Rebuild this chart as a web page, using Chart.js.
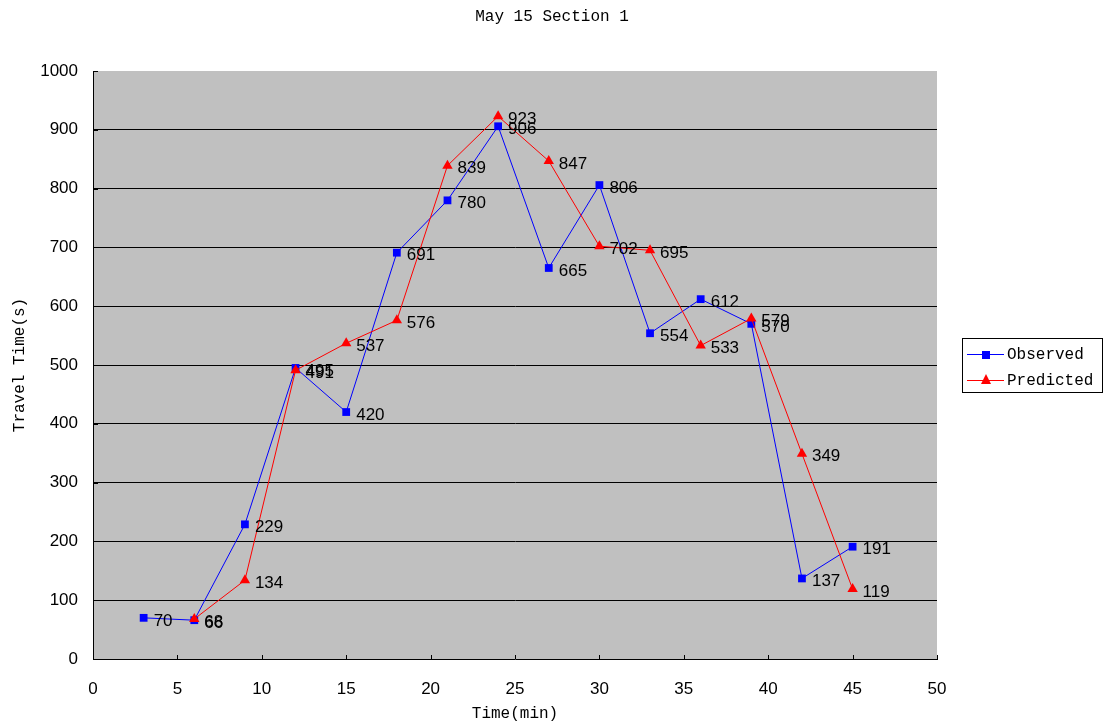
<!DOCTYPE html>
<html>
<head>
<meta charset="utf-8">
<script src="https://cdn.jsdelivr.net/npm/chart.js@4.4.1/dist/chart.umd.min.js"></script>
<style>
  html, body { margin: 0; padding: 0; background: #ffffff; }
  #wrap { width: 1104px; height: 726px; }
</style>
</head>
<body>
<div id="wrap"><canvas id="c" width="1104" height="726"></canvas></div>
<script>
// Travel time per 3-minute interval, observed vs. predicted
const chartTitle = 'May 15 Section 1';
const xAxisTitle = 'Time(min)';
const yAxisTitle = 'Travel Time(s)';
const seriesNames = ['Observed', 'Predicted'];

const observedTimes  = [3, 6, 9, 12, 15, 18, 21, 24, 27, 30, 33, 36, 39, 42, 45];
const observedValues = [70, 66, 229, 495, 420, 691, 780, 906, 665, 806, 554, 612, 570, 137, 191];

const predictedTimes  = [6, 9, 12, 15, 18, 21, 24, 27, 30, 33, 36, 39, 42, 45];
const predictedValues = [68, 134, 491, 537, 576, 839, 923, 847, 702, 695, 533, 579, 349, 119];

const xTickValues = [0, 5, 10, 15, 20, 25, 30, 35, 40, 45, 50];
const yTickValues = [0, 100, 200, 300, 400, 500, 600, 700, 800, 900, 1000];

const BLUE = '#0000ff';
const RED = '#ff0000';
const MONO = '"Liberation Mono", "DejaVu Sans Mono", monospace';
const SANS = '"Liberation Sans", Arial, sans-serif';

const toPoints = (xs, ys) => xs.map((x, i) => ({ x: x, y: ys[i] }));

// Gray plot background
const plotBackground = {
  id: 'plotBackground',
  beforeDraw(chart) {
    const { ctx, chartArea: a } = chart;
    ctx.save();
    ctx.fillStyle = '#c0c0c0';
    ctx.fillRect(a.left, a.top, a.right - a.left, a.bottom - a.top);
    ctx.restore();
  }
};

// Short inward tick marks on both axes
const innerTicks = {
  id: 'innerTicks',
  afterDraw(chart) {
    const { ctx, chartArea: a, scales } = chart;
    ctx.save();
    ctx.strokeStyle = '#000';
    ctx.lineWidth = 1;
    ctx.beginPath();
    xTickValues.forEach(v => {
      const px = Math.round(scales.x.getPixelForValue(v)) + 0.5;
      ctx.moveTo(px, a.bottom);
      ctx.lineTo(px, a.bottom - 4);
    });
    yTickValues.forEach(v => {
      const py = Math.round(scales.y.getPixelForValue(v)) + 0.5;
      ctx.moveTo(a.left, py);
      ctx.lineTo(a.left + 5, py);
    });
    ctx.stroke();
    ctx.restore();
  }
};

// Value labels to the right of each marker
const valueLabels = {
  id: 'valueLabels',
  afterDatasetsDraw(chart) {
    const { ctx } = chart;
    ctx.save();
    ctx.font = '17px ' + SANS;
    ctx.fillStyle = '#000';
    ctx.textAlign = 'left';
    ctx.textBaseline = 'middle';
    chart.data.datasets.forEach((ds, di) => {
      const meta = chart.getDatasetMeta(di);
      meta.data.forEach((el, i) => {
        ctx.fillText(String(ds.data[i].y), el.x + 10, el.y + 3);
      });
    });
    ctx.restore();
  }
};

// Titles and boxed legend
const annotations = {
  id: 'annotations',
  afterDraw(chart) {
    const { ctx, chartArea: a } = chart;
    ctx.save();
    ctx.fillStyle = '#000';
    ctx.font = '16px ' + MONO;
    ctx.textAlign = 'center';
    ctx.textBaseline = 'middle';
    ctx.fillText(chartTitle, chart.width / 2, 17);
    ctx.fillText(xAxisTitle, (a.left + a.right) / 2, 714);
    ctx.save();
    ctx.translate(20, (a.top + a.bottom) / 2);
    ctx.rotate(-Math.PI / 2);
    ctx.fillText(yAxisTitle, 0, 0);
    ctx.restore();

    // legend
    const bx = 962.5, by = 338.5, bw = 140, bh = 54;
    ctx.fillStyle = '#fff';
    ctx.fillRect(bx, by, bw, bh);
    ctx.strokeStyle = '#000';
    ctx.lineWidth = 1;
    ctx.strokeRect(bx, by, bw, bh);
    const rows = [
      { name: seriesNames[0], color: BLUE, y: 354, shape: 'rect' },
      { name: seriesNames[1], color: RED, y: 380, shape: 'tri' }
    ];
    rows.forEach(r => {
      ctx.strokeStyle = r.color;
      ctx.beginPath();
      ctx.moveTo(967, r.y + 0.5);
      ctx.lineTo(1004, r.y + 0.5);
      ctx.stroke();
      ctx.fillStyle = r.color;
      if (r.shape === 'rect') {
        ctx.fillRect(982, r.y - 3, 8, 8);
      } else {
        ctx.beginPath();
        ctx.moveTo(986, r.y - 6);
        ctx.lineTo(991, r.y + 4);
        ctx.lineTo(981, r.y + 4);
        ctx.closePath();
        ctx.fill();
      }
      ctx.fillStyle = '#000';
      ctx.textAlign = 'left';
      ctx.font = '16px ' + MONO;
      ctx.fillText(r.name, 1007, r.y + 1);
    });
    ctx.restore();
  }
};

new Chart(document.getElementById('c'), {
  type: 'line',
  data: {
    datasets: [
      {
        label: seriesNames[0],
        data: toPoints(observedTimes, observedValues),
        borderColor: BLUE,
        backgroundColor: BLUE,
        borderWidth: 1,
        pointStyle: 'rect',
        pointRadius: 5.5,
        pointBorderWidth: 0,
        pointBackgroundColor: BLUE,
        tension: 0,
        order: 2
      },
      {
        label: seriesNames[1],
        data: toPoints(predictedTimes, predictedValues),
        borderColor: RED,
        backgroundColor: RED,
        borderWidth: 1,
        pointStyle: 'triangle',
        pointRadius: 6,
        pointBorderWidth: 0,
        pointBackgroundColor: RED,
        tension: 0,
        order: 1
      }
    ]
  },
  options: {
    responsive: false,
    animation: false,
    devicePixelRatio: 1,
    layout: { padding: { top: 71, right: 167, left: 0, bottom: 0 } },
    plugins: {
      legend: { display: false },
      title: { display: false },
      tooltip: { enabled: false }
    },
    scales: {
      x: {
        type: 'linear',
        min: 0,
        max: 50,
        afterFit(scale) { scale.height = 67; },
        afterBuildTicks(scale) { scale.ticks = xTickValues.map(v => ({ value: v })); },
        grid: { display: false, drawTicks: false, tickLength: 0 },
        border: { display: true, color: '#000', width: 1 },
        ticks: {
          color: '#000', font: { family: SANS, size: 17 }, padding: 20, maxRotation: 0,
          callback: v => String(v)
        }
      },
      y: {
        type: 'linear',
        min: 0,
        max: 1000,
        afterFit(scale) { scale.width = 93; },
        afterBuildTicks(scale) { scale.ticks = yTickValues.map(v => ({ value: v })); },
        grid: {
          drawTicks: false,
          tickLength: 0,
          color: ctx => (ctx.tick && (ctx.tick.value === 0 || ctx.tick.value === 1000)) ? 'rgba(0,0,0,0)' : '#000',
          lineWidth: 1
        },
        border: { display: true, color: '#000', width: 1 },
        ticks: {
          color: '#000', font: { family: SANS, size: 17 }, padding: 15,
          callback: v => String(v)
        }
      }
    }
  },
  plugins: [plotBackground, innerTicks, valueLabels, annotations]
});
</script>
</body>
</html>
